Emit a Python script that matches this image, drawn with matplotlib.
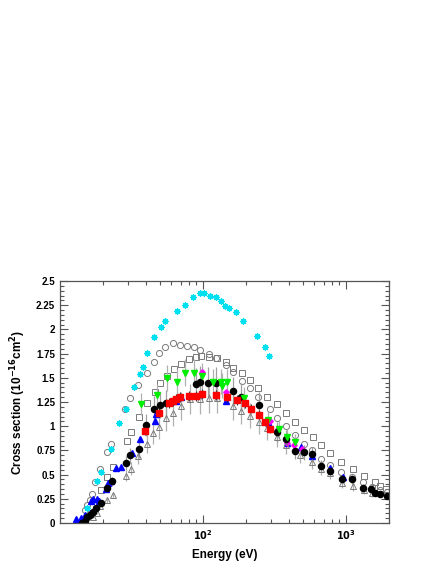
import matplotlib

matplotlib.use("Agg")
import matplotlib.pyplot as plt
from matplotlib.ticker import FixedLocator, LogLocator, NullFormatter

plt.rcParams["font.family"] = ["Liberation Sans", "DejaVu Sans"]
plt.rcParams["font.weight"] = "bold"
plt.rcParams["mathtext.default"] = "bf"

# --- data (energy in eV, cross section in 1e-16 cm^2) ---
cyan_e = [15.5, 18.2, 19.5, 22.8, 26.0, 29.1, 33.1, 36.5, 38.3, 40.8, 45.6, 51.1, 54.5,
          66.1, 75.2, 85.5, 95.7, 102, 112, 124, 134, 143, 153, 171, 191, 240, 273, 291]
cyan_y = [0.16, 0.43, 0.53, 0.76, 1.03, 1.18, 1.41, 1.54, 1.61, 1.76, 1.92, 2.02, 2.09,
          2.19, 2.25, 2.33, 2.38, 2.38, 2.35, 2.33, 2.29, 2.24, 2.22, 2.18, 2.09, 1.93, 1.82, 1.73]

circ_e = [15.0, 15.5, 16.1, 16.8, 17.7, 19.1, 21.4, 22.8, 28.6, 31.0, 35.3, 40.8, 45.6,
          49.5, 54.5, 62.0, 69.4, 77.6, 86.9, 95.7, 110, 124, 146, 163, 188, 214, 244,
          296, 331, 383, 442, 511, 581, 672, 776, 927, 1107, 1321, 1528, 1738, 1945]
circ_y = [0.13, 0.19, 0.24, 0.30, 0.42, 0.56, 0.73, 0.82, 1.18, 1.29, 1.43, 1.55, 1.66,
          1.76, 1.82, 1.86, 1.84, 1.83, 1.82, 1.79, 1.75, 1.70, 1.63, 1.56, 1.47, 1.39, 1.30,
          1.18, 1.08, 1.00, 0.91, 0.82, 0.75, 0.66, 0.60, 0.53, 0.48, 0.42, 0.37, 0.34, 0.32]

sq_e = [19.5, 21.4, 23.6, 29.6, 31.6, 35.9, 40.8, 46.3, 50.3, 56.3, 63.0, 70.5, 80.2,
        89.8, 97.3, 110, 126, 146, 163, 188, 214, 244, 281, 331, 383, 442, 511, 591,
        672, 776, 927, 1125, 1343, 1603, 1738, 1914]
sq_y = [0.34, 0.48, 0.58, 0.85, 0.94, 1.09, 1.24, 1.35, 1.45, 1.52, 1.59, 1.64, 1.69,
        1.71, 1.73, 1.71, 1.70, 1.66, 1.60, 1.55, 1.48, 1.39, 1.30, 1.23, 1.14, 1.04, 0.96,
        0.89, 0.81, 0.72, 0.63, 0.56, 0.49, 0.42, 0.38, 0.35]

tri_e = [15.3, 17.1, 18.2, 19.1, 21.4, 23.6, 29.1, 31.6, 35.3, 40.8, 44.9, 49.5, 55.4,
         62.0, 70.5, 81.5, 95.7, 110, 126, 163, 185, 214, 248, 281, 331, 383, 479, 581,
         672, 776, 942, 1125, 1343, 1528]
tri_y = [0.00, 0.06, 0.10, 0.18, 0.24, 0.29, 0.49, 0.56, 0.69, 0.82, 0.93, 0.99, 1.08,
         1.14, 1.21, 1.28, 1.28, 1.29, 1.29, 1.21, 1.16, 1.11, 1.04, 0.98, 0.89, 0.81, 0.70,
         0.63, 0.56, 0.52, 0.41, 0.38, 0.34, 0.31]

black_e = [14.3, 15.0, 15.5, 16.3, 17.1, 17.9, 19.5, 21.4, 23.2, 29.1, 31.0, 35.9, 40.2,
           45.6, 50.3, 55.4, 89.8, 95.7, 109, 124, 163, 185, 248, 331, 383, 442, 511, 581,
           672, 776, 942, 1107, 1321, 1503, 1603, 1738, 1945]
black_y = [0.00, 0.02, 0.06, 0.08, 0.11, 0.15, 0.21, 0.36, 0.43, 0.62, 0.70, 0.76, 1.01,
           1.18, 1.22, 1.24, 1.44, 1.46, 1.45, 1.45, 1.36, 1.30, 1.22, 0.94, 0.87, 0.74, 0.73,
           0.71, 0.59, 0.54, 0.45, 0.45, 0.36, 0.35, 0.31, 0.30, 0.28]

blue_e = [13.0, 14.1, 15.0, 16.1, 16.6, 17.1, 18.2, 18.8, 21.1, 21.8, 22.8, 24.8, 26.9,
          32.1, 36.5, 46.3, 47.1, 65.1, 70.5, 95.7, 146, 291, 389, 487, 581, 776, 957]
blue_y = [0.04, 0.05, 0.08, 0.10, 0.23, 0.25, 0.25, 0.23, 0.35, 0.41, 0.43, 0.57, 0.58,
          0.72, 0.87, 1.05, 1.13, 1.26, 1.30, 1.33, 1.26, 1.02, 0.83, 0.79, 0.69, 0.57, 0.48]

red_e = [39.5, 49.5, 58.1, 62.0, 65.1, 69.4, 80.2, 89.8, 98.9, 124, 148, 174, 198, 218,
         248, 273, 296]
red_y = [0.95, 1.14, 1.24, 1.26, 1.28, 1.30, 1.31, 1.31, 1.33, 1.32, 1.30, 1.27, 1.24,
         1.18, 1.12, 1.04, 0.97]

green_e = [37.1, 47.9, 56.3, 66.1, 75.2, 86.9, 98.9, 118, 134, 136, 148, 195, 286, 342,
           389, 442]
green_y = [1.23, 1.32, 1.50, 1.46, 1.55, 1.55, 1.52, 1.46, 1.46, 1.42, 1.46, 1.29, 1.06,
           0.97, 0.89, 0.84]

mag_e = [98.9, 146, 296, 336, 389, 435, 495]
mag_y = [1.56, 1.35, 1.05, 0.97, 0.83, 0.81, 0.76]

# relative uncertainties of the data sets drawn with error bars
black_rel = 0.11
tri_rel = 0.12
red_rel = 0.04
green_rel = 0.09

y_ticks = [0, 0.25, 0.5, 0.75, 1, 1.25, 1.5, 1.75, 2, 2.25, 2.5]
y_labels = ["0", "0.25", "0.5", "0.75", "1", "1.25", "1.5", "1.75", "2", "2.25", "2.5"]
x_ticks = [100, 1000]
x_labels = [r"$10^{2}$", r"$10^{3}$"]

fig = plt.figure(figsize=(4.36, 5.64), dpi=100)
ax = fig.add_axes([0.1376, 0.0727, 0.7544, 0.4291])

grey = "#7a7a7a"
ms = 4.4
ax.plot(sq_e, sq_y, "s", ms=ms, mfc="none", mec=grey, mew=0.7)
ax.plot(circ_e, circ_y, "o", ms=ms, mfc="none", mec=grey, mew=0.7)
ax.errorbar(tri_e, tri_y, yerr=[y * tri_rel for y in tri_y], fmt="^", ms=ms,
            mfc="none", mec=grey, mew=0.7, ecolor="#b0b0b0", elinewidth=0.9, capsize=0)
ax.errorbar(black_e, black_y, yerr=[y * black_rel for y in black_y], fmt="o", ms=ms,
            color="black", ecolor="#a0a0a0", elinewidth=0.9, capsize=0)
ax.plot(blue_e, blue_y, "^", ms=ms, color="#0000ff", mec="#0000ff")
ax.errorbar(green_e, green_y, yerr=[y * green_rel for y in green_y], fmt="v", ms=ms,
            color="#00ee00", ecolor="#b0b0b0", elinewidth=0.9, capsize=0)
ax.errorbar(red_e, red_y, yerr=[y * red_rel for y in red_y], fmt="s", ms=ms,
            color="#ff0000", ecolor="#333333", elinewidth=0.8, capsize=0)
ax.plot(mag_e, mag_y, "D", ms=2.8, color="#ff00ff")
ax.plot(cyan_e, cyan_y, marker=(8, 2, 0), ls="none", ms=4.6, mec="#00e0f0", mew=0.9)

ax.set_xscale("log")
ax.set_xlim(10, 2000)
ax.set_ylim(0, 2.5)
ax.xaxis.set_major_locator(FixedLocator(x_ticks))
ax.set_xticklabels(x_labels)
ax.xaxis.set_minor_locator(LogLocator(base=10, subs=range(2, 10)))
ax.xaxis.set_minor_formatter(NullFormatter())
ax.set_yticks(y_ticks)
ax.set_yticklabels(y_labels)
ax.set_yticks([i * 0.05 for i in range(51)], minor=True)

ax.tick_params(which="both", direction="in", top=True, right=True, labelsize=7,
               color="#555555", width=0.8)
ax.tick_params(which="major", length=6)
ax.tick_params(which="minor", length=3)
for s in ax.spines.values():
    s.set_color("#555555")
    s.set_linewidth(0.9)

ax.set_xlabel("Energy (eV)", fontsize=8.5, fontweight="bold", labelpad=5)
ax.set_ylabel(r"Cross section (10$^{-16}$cm$^{2}$)", fontsize=8.5, fontweight="bold",
              labelpad=6)

fig.savefig("out.png", dpi=100)
